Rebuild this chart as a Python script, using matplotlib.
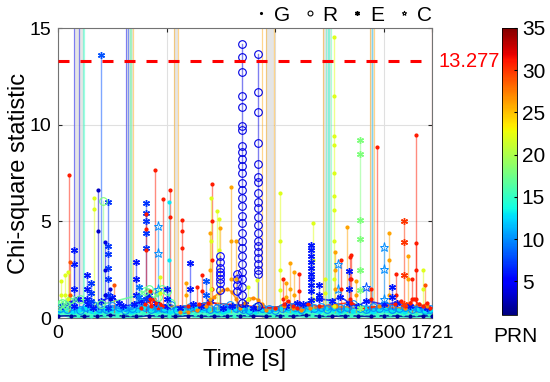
import matplotlib
matplotlib.use('Agg')
import matplotlib.pyplot as plt
import matplotlib as mpl
from matplotlib.lines import Line2D

plt.rcParams['font.family'] = ['Liberation Sans', 'DejaVu Sans']

# ---------------- data ----------------
x_ticks = [0, 500, 1000, 1500, 1721]
y_ticks = [0, 5, 10, 15]
threshold = 13.277
cbar_ticks = [5, 10, 15, 20, 25, 30, 35]
systems = ['G', 'R', 'E', 'C']

# baseline series (dense band near zero)
base_sys = ['G', 'G', 'R', 'G', 'E', 'G', 'G', 'R']
base_prn = [15, 13, 10, 2, 6, 27, 31, 17]
base_t = [
    [0, 30, 60, 90, 120, 150, 180, 210, 240, 270, 300, 330, 360, 390, 420, 450, 480, 510, 540, 570,
     600, 630, 660, 690, 720, 750, 780, 810, 840, 870, 900, 930, 960, 990, 1020, 1050, 1080, 1110, 1140, 1170,
     1200, 1230, 1260, 1290, 1320, 1350, 1380, 1410, 1440, 1470, 1500, 1530, 1560, 1590, 1620, 1650, 1680, 1710],
    [5, 35, 65, 95, 125, 155, 185, 215, 245, 275, 305, 335, 365, 395, 425, 455, 485, 515, 545, 575,
     605, 635, 665, 695, 725, 755, 785, 815, 845, 875, 905, 935, 965, 995, 1025, 1055, 1085, 1115, 1145, 1175,
     1205, 1235, 1265, 1295, 1325, 1355, 1385, 1415, 1445, 1475, 1505, 1535, 1565, 1595, 1625, 1655, 1685, 1718],
    [10, 40, 70, 100, 130, 160, 190, 220, 250, 280, 310, 340, 370, 400, 430, 460, 490, 520, 550, 580,
     610, 640, 670, 700, 730, 760, 790, 820, 850, 880, 910, 940, 970, 1000, 1030, 1060, 1090, 1120, 1150, 1180,
     1210, 1240, 1270, 1300, 1330, 1360, 1390, 1420, 1450, 1480, 1510, 1540, 1570, 1600, 1630, 1660, 1690, 1715],
    [0, 60, 120, 180, 240, 300, 360, 420, 480, 540, 600, 660, 720, 780, 840, 900, 960, 1020, 1080, 1140,
     1200, 1260, 1320, 1380, 1440, 1500, 1560, 1620, 1680, 1720],
    [20, 50, 90, 140, 160, 200, 250, 280, 300, 350, 380, 420, 450, 500, 560, 620, 660, 700, 760, 800,
     860, 900, 1050, 1100, 1130, 1200, 1260, 1300, 1340, 1380, 1420, 1500, 1560, 1620, 1700],
    [560, 600, 640, 680, 700, 720, 740, 760, 780, 800, 820, 840, 860, 880, 900, 920, 940, 960, 1000, 1040,
     1080, 1120, 1160, 1280, 1400, 1480, 1600, 1660, 1700],
    [380, 400, 420, 430, 440, 450, 460, 470, 480, 600, 650, 690, 1000, 1040, 1060, 1080, 1100, 1150, 1200, 1350,
     1400, 1550, 1580, 1600, 1620, 1640, 1660, 1680, 1700, 1715],
    [0, 10, 20, 30, 40, 50, 60, 100, 200, 380, 400, 420, 440, 460, 480, 500, 520],
]
base_y = [
    [0.25, 0.30, 0.20, 0.15, 0.20, 0.10, 0.15, 0.20, 0.25, 0.15,
     0.10, 0.20, 0.15, 0.25, 0.30, 0.20, 0.15, 0.10, 0.20, 0.25,
     0.30, 0.20, 0.15, 0.20, 0.25, 0.20, 0.15, 0.10, 0.15, 0.20,
     0.25, 0.30, 0.20, 0.15, 0.10, 0.15, 0.20, 0.25, 0.20, 0.15,
     0.10, 0.20, 0.30, 0.25, 0.20, 0.15, 0.20, 0.25, 0.20, 0.15,
     0.10, 0.20, 0.25, 0.20, 0.15, 0.20, 0.25, 0.20],
    [0.35, 0.45, 0.30, 0.40, 0.50, 0.35, 0.30, 0.45, 0.40, 0.35,
     0.50, 0.30, 0.40, 0.55, 0.45, 0.35, 0.40, 0.30, 0.45, 0.40,
     0.35, 0.50, 0.40, 0.45, 0.35, 0.30, 0.40, 0.45, 0.50, 0.35,
     0.30, 0.40, 0.35, 0.45, 0.50, 0.40, 0.35, 0.30, 0.45, 0.40,
     0.35, 0.50, 0.40, 0.30, 0.45, 0.35, 0.40, 0.50, 0.30, 0.40,
     0.45, 0.35, 0.40, 0.30, 0.50, 0.45, 0.35, 0.40],
    [0.50, 0.45, 0.60, 0.40, 0.55, 0.65, 0.50, 0.45, 0.60, 0.55,
     0.40, 0.50, 0.70, 0.55, 0.45, 0.60, 0.50, 0.65, 0.40, 0.45,
     0.55, 0.50, 0.60, 0.45, 0.50, 0.55, 0.65, 0.50, 0.45, 0.40,
     0.55, 0.50, 0.45, 0.40, 0.50, 0.60, 0.55, 0.45, 0.65, 0.50,
     0.55, 0.45, 0.60, 0.50, 0.55, 0.70, 0.50, 0.45, 0.55, 0.50,
     0.60, 0.45, 0.50, 0.55, 0.45, 0.50, 0.40, 0.45],
    [0.10, 0.12, 0.08, 0.10, 0.15, 0.10, 0.08, 0.12, 0.10, 0.08,
     0.12, 0.10, 0.08, 0.10, 0.12, 0.10, 0.08, 0.12, 0.10, 0.15,
     0.10, 0.08, 0.12, 0.10, 0.08, 0.12, 0.10, 0.08, 0.10, 0.12],
    [0.60, 0.80, 1.00, 0.70, 0.50, 0.90, 1.10, 0.80, 0.60, 0.70,
     0.90, 1.20, 0.80, 0.60, 0.50, 0.70, 0.60, 0.90, 0.50, 0.60,
     0.70, 0.50, 0.60, 0.80, 0.70, 1.00, 0.90, 1.10, 0.80, 0.60,
     0.90, 0.70, 0.80, 0.60, 0.50],
    [0.30, 0.30, 0.40, 0.60, 0.80, 1.10, 1.30, 1.45, 1.50, 1.35,
     1.00, 0.50, 0.80, 1.00, 1.05, 0.95, 0.70, 0.40, 0.50, 0.60,
     0.50, 0.40, 0.50, 0.60, 0.50, 0.60, 0.50, 0.70, 0.60],
    [0.50, 0.70, 0.90, 0.60, 1.00, 0.80, 0.50, 0.70, 0.60, 0.60,
     0.70, 0.80, 0.50, 0.70, 0.90, 0.60, 0.50, 0.70, 0.60, 0.80,
     0.50, 0.70, 0.90, 0.60, 0.80, 1.00, 0.70, 0.60, 0.80, 0.50],
    [0.60, 0.70, 0.80, 0.70, 0.60, 0.90, 1.00, 1.00, 0.70, 1.20,
     1.40, 1.50, 1.30, 1.10, 1.50, 1.40, 0.80],
]

# spikes (vertical excursions)
spike_sys = ['R', 'R', 'E', 'G', 'E', 'G', 'G', 'G', 'G', 'G',
             'E', 'G', 'R', 'E', 'C', 'G', 'G', 'G', 'G', 'G',
             'G', 'G', 'G', 'G', 'G', 'G', 'G', 'E', 'G', 'C',
             'E', 'E', 'C', 'C', 'G', 'G', 'G', 'E', 'G', 'G',
             'G', 'E', 'G', 'E', 'G', 'E', 'G', 'R', 'R', 'G',
             'G', 'G', 'G', 'G', 'G', 'G', 'G', 'G', 'G', 'G',
             'G', 'G',
             'G', 'E', 'G', 'G', 'E', 'G', 'G', 'E', 'G', 'G',
             'G', 'E', 'G', 'G', 'G', 'E', 'G', 'G', 'G', 'E']
spike_prn = [4, 4, 8, 22, 18, 31, 31, 31, 31, 3,
             7, 22, 18, 7, 10, 31, 13, 31, 31, 31,
             22, 22, 26, 22, 22, 22, 26, 30, 26, 10,
             6, 6, 10, 8, 31, 31, 22, 6, 22, 22,
             29, 6, 4, 6, 31, 6, 26, 5, 5, 26,
             22, 31, 26, 26, 26, 31, 31, 31, 26, 31,
             26, 29,
             22, 7, 4, 29, 9, 31, 22, 6, 26, 31,
             31, 8, 22, 26, 31, 6, 22, 26, 31, 6]
spike_t = [845, 920, 196, 1271, 1389, 1471, 1647, 52, 448, 185,
           231, 167, 207, 405, 461, 515, 511, 482, 570, 711,
           704, 734, 745, 740, 1021, 1172, 1329, 1595, 1523, 1502,
           1163, 1339, 1290, 1420, 1343, 1650, 1680, 74, 30, 46,
           55, 134, 218, 359, 403, 607, 700, 745, 822, 818,
           916, 1035, 1067, 1086, 1274, 1305, 1351, 1558, 1610, 1630,
           795, 1690,
           15, 150, 240, 260, 375, 425, 470, 500, 590, 640,
           665, 680, 875, 1050, 1110, 1200, 1230, 1370, 1440, 1540]
spike_vals = [
    [14.15, 13.5, 12.75, 11.5, 10.9, 9.95, 9.7, 8.9, 8.6, 8.2, 7.85, 7.5, 7.0, 6.6, 6.2, 5.8,
     5.3, 4.9, 4.4, 4.0, 3.6, 3.2, 2.8, 2.4, 2.0, 1.6, 1.2, 0.8],
    [13.65, 11.7, 10.64, 9.04, 7.95, 7.3, 7.05, 6.45, 6.0, 5.7, 5.2, 4.8, 4.4, 4.0, 3.7, 3.4,
     3.1, 2.8, 2.5, 2.3, 0.6],
    [13.6],
    [14.56, 11.5, 9.4, 8.95, 7.5, 6.3, 5.6, 4.0, 2.0, 0.6],
    [9.2, 8.5, 5.07, 4.07, 2.5, 1.45, 0.5],
    [8.83],
    [9.47],
    [7.4],
    [7.65],
    [6.6, 4.5],
    [6.0, 3.7, 3.3, 2.6, 2.0, 1.2, 0.5],
    [6.2, 5.65],
    [6.07],
    [5.95, 5.45, 5.03, 4.4, 3.6, 1.0],
    [4.76, 3.36, 1.5, 0.5],
    [6.6, 5.2],
    [6.0, 3.0, 1.0],
    [6.15],
    [5.07, 4.5, 3.6],
    [6.93, 5.0, 3.0, 1.5],
    [6.2, 4.0, 1.5],
    [5.55],
    [4.66],
    [5.1, 3.5],
    [6.45, 4.0, 2.5, 1.45],
    [4.93, 3.0, 1.0],
    [4.7],
    [5.03, 3.95, 2.2, 0.7],
    [4.4, 3.0, 1.2],
    [3.65, 2.53, 1.0],
    [3.8, 3.5, 3.2, 2.9, 2.6, 2.3, 2.0, 1.7, 1.4, 0.93],
    [2.43, 1.5],
    [2.8, 1.5],
    [1.6],
    [3.17, 2.0, 1.0],
    [3.86, 2.5, 1.0],
    [2.5, 1.5],
    [3.5, 2.8, 1.5, 0.6],
    [2.2, 1.2],
    [2.4, 1.0],
    [2.9, 1.2],
    [2.2, 1.5, 1.0],
    [3.95, 2.5, 1.2],
    [2.9, 2.0, 1.2],
    [5.4, 4.6, 3.5],
    [2.86, 1.5],
    [4.4, 2.5, 1.0],
    [3.2, 2.9, 2.6, 2.4, 2.2, 2.0, 1.8, 1.45],
    [2.3, 2.0, 1.7, 1.4],
    [4.0, 2.0],
    [1.97],
    [2.0, 1.0],
    [2.85, 1.5],
    [2.4, 1.2],
    [3.43, 2.5, 1.5],
    [3.0, 1.5],
    [3.26, 2.0],
    [2.3, 1.2],
    [3.2, 2.0],
    [2.0, 1.0],
    [6.8, 4.0, 2.0],
    [1.7],
    [1.9, 1.2],
    [1.8, 1.3, 0.9],
    [1.5, 1.0],
    [1.7],
    [1.6, 1.1],
    [1.4, 1.0],
    [2.1, 1.3],
    [1.5, 1.0],
    [1.8, 1.2],
    [1.6],
    [2.2, 1.4],
    [1.9, 1.2],
    [1.6, 1.0],
    [1.8, 1.1],
    [2.3, 1.4],
    [1.7, 1.2],
    [2.0, 1.3],
    [1.9, 1.2],
    [1.5, 1.0],
    [1.6, 1.1],
]

# outage bands and their edge lines
band_start = [75, 313, 534, 957, 1221, 1438]
band_end = [121, 344, 553, 994, 1257, 1457]
edge_t = [75, 98, 114, 121, 313, 320, 332, 337, 344, 534, 553, 940, 957, 994,
          1221, 1232, 1242, 1250, 1257, 1438, 1446, 1457, 1721]
edge_prn = [5, 5, 15, 15, 5, 7, 16, 17, 26, 26, 26, 26, 26, 26,
            26, 15, 14, 15, 16, 26, 12, 26, 31]

# ---------------- drawing ----------------
cmap = plt.get_cmap('jet')
norm = mpl.colors.Normalize(vmin=1, vmax=35)

MARK = {
    'G': dict(marker='.', ms=4),
    'R': dict(marker='o', ms=5.5, mfc='none', mew=0.8),
    'E': dict(marker=(6, 2, 0), ms=5, mew=1.0),
    'C': dict(marker='*', ms=6.5, mfc='none', mew=0.7),
}

fig = plt.figure(figsize=(5.5, 3.82), dpi=100)
ax = fig.add_axes([0.1055, 0.1675, 0.6795, 0.7592])

for s, e in zip(band_start, band_end):
    ax.axvspan(s, e, color=(0.86, 0.86, 0.86), alpha=0.7, lw=0, zorder=1)
for t, p in zip(edge_t, edge_prn):
    ax.axvline(t, color=cmap(norm(p)), alpha=0.45, lw=0.9, zorder=1.5)

for s, p, t, y in zip(base_sys, base_prn, base_t, base_y):
    c = cmap(norm(p))
    lw = {15: 6, 13: 4, 10: 2.5}.get(p, 1.2)
    ax.plot(t, y, color=c, lw=lw, alpha=0.85, zorder=2)
    ax.plot(t, y, ls='none', color=c, zorder=3, **MARK[s])

for s, p, t, v in zip(spike_sys, spike_prn, spike_t, spike_vals):
    c = cmap(norm(p))
    ts = [t] * (len(v) + 1)
    vs = list(v) + [0.3]
    ax.plot(ts, vs, color=c, lw=1.0, alpha=0.5, zorder=2.5)
    ax.plot([t] * len(v), v, ls='none', color=c, zorder=3.5, **MARK[s])

ax.axhline(threshold, color='red', lw=2.2, dashes=(3.6, 3.6), zorder=5)
ax.text(1.018, threshold, '%.3f' % threshold, transform=ax.get_yaxis_transform(),
        color='red', fontsize=14.5, va='center', ha='left')

ax.set_xlim(0, 1721)
ax.set_ylim(0, 15)
ax.set_xticks(x_ticks)
ax.set_yticks(y_ticks)
ax.tick_params(direction='in', length=3, top=True, right=True, labelsize=14,
               color=(0.15, 0.15, 0.15), pad=5)
ax.grid(True, color=(0.88, 0.88, 0.88), lw=0.8, zorder=0)
ax.set_axisbelow(True)
for sp in ax.spines.values():
    sp.set_color((0.45, 0.45, 0.45))
    sp.set_linewidth(0.8)
ax.set_xlabel('Time [s]', fontsize=17, labelpad=5)
ax.set_ylabel('Chi-square statistic', fontsize=17, labelpad=-0.5)

handles = [Line2D([], [], ls='none', color='k', **dict(MARK[s], ms=(2.5 if s == 'G' else 3.5)))
           for s in systems]
ax.legend(handles, systems, loc='lower right', bbox_to_anchor=(1.0, 1.012), ncol=4,
          frameon=False, fontsize=15, handlelength=0.7, handletextpad=0.28,
          columnspacing=0.58, borderaxespad=0.0, borderpad=0.0)

cax = fig.add_axes([0.9127, 0.175, 0.0273, 0.752])
cb = mpl.colorbar.ColorbarBase(cax, cmap=cmap, norm=norm, ticks=cbar_ticks)
cb.ax.tick_params(labelsize=15, direction='in', length=2)
cb.outline.set_linewidth(0.6)
fig.text(0.938, 0.118, 'PRN', fontsize=15, ha='center', va='center')

fig.savefig('out.png', dpi=100)
